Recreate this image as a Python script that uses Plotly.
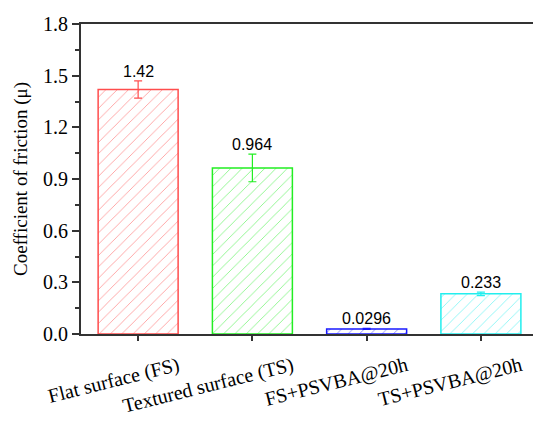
import plotly.graph_objects as go

categories = ["Flat surface (FS)", "Textured surface (TS)", "FS+PSVBA@20h", "TS+PSVBA@20h"]
values = [1.42, 0.964, 0.0296, 0.233]
errors = [0.05, 0.08, 0.003, 0.01]
labels = ["1.42", "0.964", "0.0296", "0.233"]
colors = ["#ff4d4d", "#22ee22", "#1a1aff", "#22eeee"]
yticks = [0, 0.3, 0.6, 0.9, 1.2, 1.5, 1.8]
yticktext = ["0.0", "0.3", "0.6", "0.9", "1.2", "1.5", "1.8"]
yminor = [0.15, 0.45, 0.75, 1.05, 1.35, 1.65]

x = list(range(len(categories)))
SERIF = "Liberation Serif, Times New Roman, serif"

fig = go.Figure()
for i in range(len(categories)):
    fig.add_trace(go.Bar(
        x=[x[i]], y=[values[i]], width=0.7,
        marker=dict(
            color="white",
            line=dict(color=colors[i], width=1.5),
            pattern=dict(shape="/", fgcolor=colors[i], bgcolor="white", size=8, solidity=0.1, fgopacity=0.6),
        ),
        error_y=dict(type="data", array=[errors[i]], visible=True, thickness=1.2, width=4, color=colors[i]),
        showlegend=False,
    ))
    fig.add_annotation(
        x=x[i], y=values[i] + errors[i], text=labels[i], showarrow=False,
        yanchor="bottom", yshift=-1,
        font=dict(family="Liberation Sans, Arial", size=16, color="black"),
    )

fig.update_layout(
    width=533, height=422,
    margin=dict(l=81, r=0, t=24, b=88),
    paper_bgcolor="white", plot_bgcolor="white",
    barmode="overlay",
    font=dict(family=SERIF, size=18, color="black"),
)
fig.update_xaxes(
    range=[-0.5, 3.456],
    tickmode="array", tickvals=x, ticktext=categories,
    tickangle=-14, ticklabelshift=40, ticklabelstandoff=6,
    ticks="outside", ticklen=5, tickwidth=1.5, tickcolor="#333",
    showline=True, linecolor="#333", linewidth=1.5, mirror=True,
    showgrid=False, zeroline=False,
    tickfont=dict(family=SERIF, size=20, color="black"),
)
fig.update_yaxes(
    range=[0, 1.8],
    tickmode="array", tickvals=yticks, ticktext=yticktext,
    ticks="outside", ticklen=7, tickwidth=1.5, tickcolor="#333",
    minor=dict(tickvals=yminor, ticks="outside", ticklen=4, tickwidth=1.5, tickcolor="#333"),
    showline=True, linecolor="#333", linewidth=2,
    showgrid=False, zeroline=False,
    title=dict(text="Coefficient of friction (μ)", standoff=10,
               font=dict(family=SERIF, size=19, color="black")),
    tickfont=dict(family=SERIF, size=20, color="black"),
)

fig.write_html("out.html")
